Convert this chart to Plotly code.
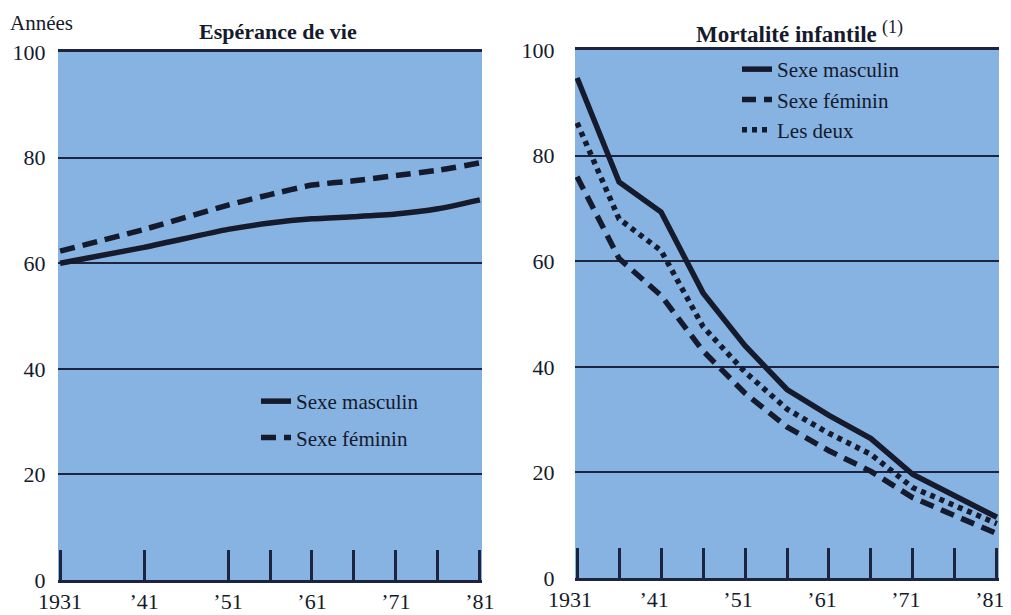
import plotly.graph_objects as go

# ---- data ----
years_left = [1931, 1941, 1951, 1956, 1961, 1966, 1971, 1976, 1981]
life_male = [60.0, 63.0, 66.4, 67.6, 68.4, 68.8, 69.3, 70.3, 72.0]
life_female = [62.3, 66.4, 71.0, 73.0, 74.8, 75.6, 76.6, 77.6, 79.0]

years_right = [1931, 1936, 1941, 1946, 1951, 1956, 1961, 1966, 1971, 1976, 1981]
inf_male = [94.7, 75.0, 69.3, 54.0, 44.0, 35.7, 30.8, 26.4, 19.6, 15.5, 11.5]
inf_female = [76.0, 60.5, 53.5, 43.0, 35.0, 28.6, 24.1, 20.2, 15.2, 11.8, 8.4]
inf_both = [86.2, 68.0, 62.0, 47.6, 39.0, 32.0, 27.4, 23.4, 17.1, 13.7, 10.3]

left_ticks = [1931, 1941, 1951, 1956, 1961, 1966, 1971, 1976, 1981]
left_ticktext = ["1931", "\u201941", "\u201951", "", "\u201961", "", "\u201971", "", "\u201981"]
right_ticks = years_right
right_ticktext = ["1931", "", "\u201941", "", "\u201951", "", "\u201961", "", "\u201971", "", "\u201981"]
y_ticks = [0, 20, 40, 60, 80, 100]

label_male = "Sexe masculin"
label_female = "Sexe féminin"
label_both = "Les deux"

# ---- style ----
OFF = 8                      # default page margin of the html body
W, H = 1011 - OFF, 615 - OFF
INK = "#151a2c"
GRID = "#1c2440"
BLUE = "#86b3e2"
FONT = "Liberation Serif, Times New Roman, serif"


def px(x):
    return (x - OFF) / W


def py(y):
    return 1 - (y - OFF) / H


fig = go.Figure()

fig.add_trace(go.Scatter(x=years_left, y=life_male, mode="lines", name=label_male,
                         line=dict(color=INK, width=5.5, shape="spline", smoothing=0.5),
                         xaxis="x", yaxis="y", legend="legend", legendgroup="lm"))
fig.add_trace(go.Scatter(x=years_left, y=life_female, mode="lines", name=label_female,
                         line=dict(color=INK, width=5.5, dash="15px,8px", shape="spline", smoothing=0.5),
                         xaxis="x", yaxis="y", legend="legend", legendgroup="lf"))

fig.add_trace(go.Scatter(x=years_right, y=inf_male, mode="lines", name=label_male,
                         line=dict(color=INK, width=5.5),
                         xaxis="x2", yaxis="y2", legend="legend2", legendgroup="rm"))
fig.add_trace(go.Scatter(x=years_right, y=inf_female, mode="lines", name=label_female,
                         line=dict(color=INK, width=5.5, dash="14px,8px"),
                         xaxis="x2", yaxis="y2", legend="legend2", legendgroup="rf"))
fig.add_trace(go.Scatter(x=years_right, y=inf_both, mode="lines", name=label_both,
                         line=dict(color=INK, width=5.5, dash="5px,5px"),
                         xaxis="x2", yaxis="y2", legend="legend2", legendgroup="rb"))

xcommon = dict(showgrid=False, zeroline=False, showline=True, linecolor=GRID, linewidth=3,
               mirror=True, ticks="inside", ticklen=30, tickwidth=2.5, tickcolor=GRID,
               tickfont=dict(family=FONT, size=22, color=INK), tickmode="array",
               ticklabeloverflow="allow",
               range=[1930.75, 1981.25], fixedrange=True, automargin=False)
ycommon = dict(range=[0, 100], tickmode="array", tickvals=y_ticks, showgrid=True,
               gridcolor=GRID, gridwidth=2, zeroline=False, showline=False,
               ticks="outside", tickcolor="rgba(0,0,0,0)",
               tickfont=dict(family=FONT, size=22, color=INK), fixedrange=True,
               ticklabeloverflow="allow", automargin=False)

fig.update_layout(
    width=W, height=H,
    margin=dict(l=0, r=0, t=0, b=0, pad=0, autoexpand=False),
    paper_bgcolor="white",
    plot_bgcolor=BLUE,
    font=dict(family=FONT, color=INK),
    xaxis=dict(domain=[px(58), px(482)], tickvals=left_ticks,
               ticktext=left_ticktext, anchor="y", **xcommon),
    yaxis=dict(domain=[py(580), py(52)], anchor="x", ticklen=7, **ycommon),
    xaxis2=dict(domain=[px(575), px(999)], tickvals=right_ticks,
                ticktext=right_ticktext, anchor="y2", ticklabelshift=-7, **xcommon),
    yaxis2=dict(domain=[py(578), py(50)], anchor="x2", ticklen=15, **ycommon),
    legend=dict(x=px(256), y=py(381), xanchor="left", yanchor="top",
                bgcolor="rgba(0,0,0,0)", font=dict(family=FONT, size=21, color=INK),
                tracegroupgap=6),
    legend2=dict(x=px(737), y=py(49), xanchor="left", yanchor="top",
                 bgcolor="rgba(0,0,0,0)", font=dict(family=FONT, size=21, color=INK),
                 tracegroupgap=0),
    annotations=[
        dict(text="Années", x=px(8), y=py(23), xref="paper", yref="paper",
             xanchor="left", yanchor="middle", showarrow=False,
             font=dict(family=FONT, size=21, color=INK)),
        dict(text="<b>Espérance de vie</b>", x=px(278), y=py(31), xref="paper", yref="paper",
             xanchor="center", yanchor="middle", showarrow=False,
             font=dict(family=FONT, size=22, color=INK)),
        dict(text="<b>Mortalité infantile</b>", x=px(879), y=py(34), xref="paper", yref="paper",
             xanchor="right", yanchor="middle", showarrow=False,
             font=dict(family=FONT, size=23, color=INK)),
        dict(text="(1)", x=px(880), y=py(28), xref="paper", yref="paper",
             xanchor="left", yanchor="middle", showarrow=False,
             font=dict(family=FONT, size=18, color=INK)),
    ],
)

fig.write_html("out.html")
